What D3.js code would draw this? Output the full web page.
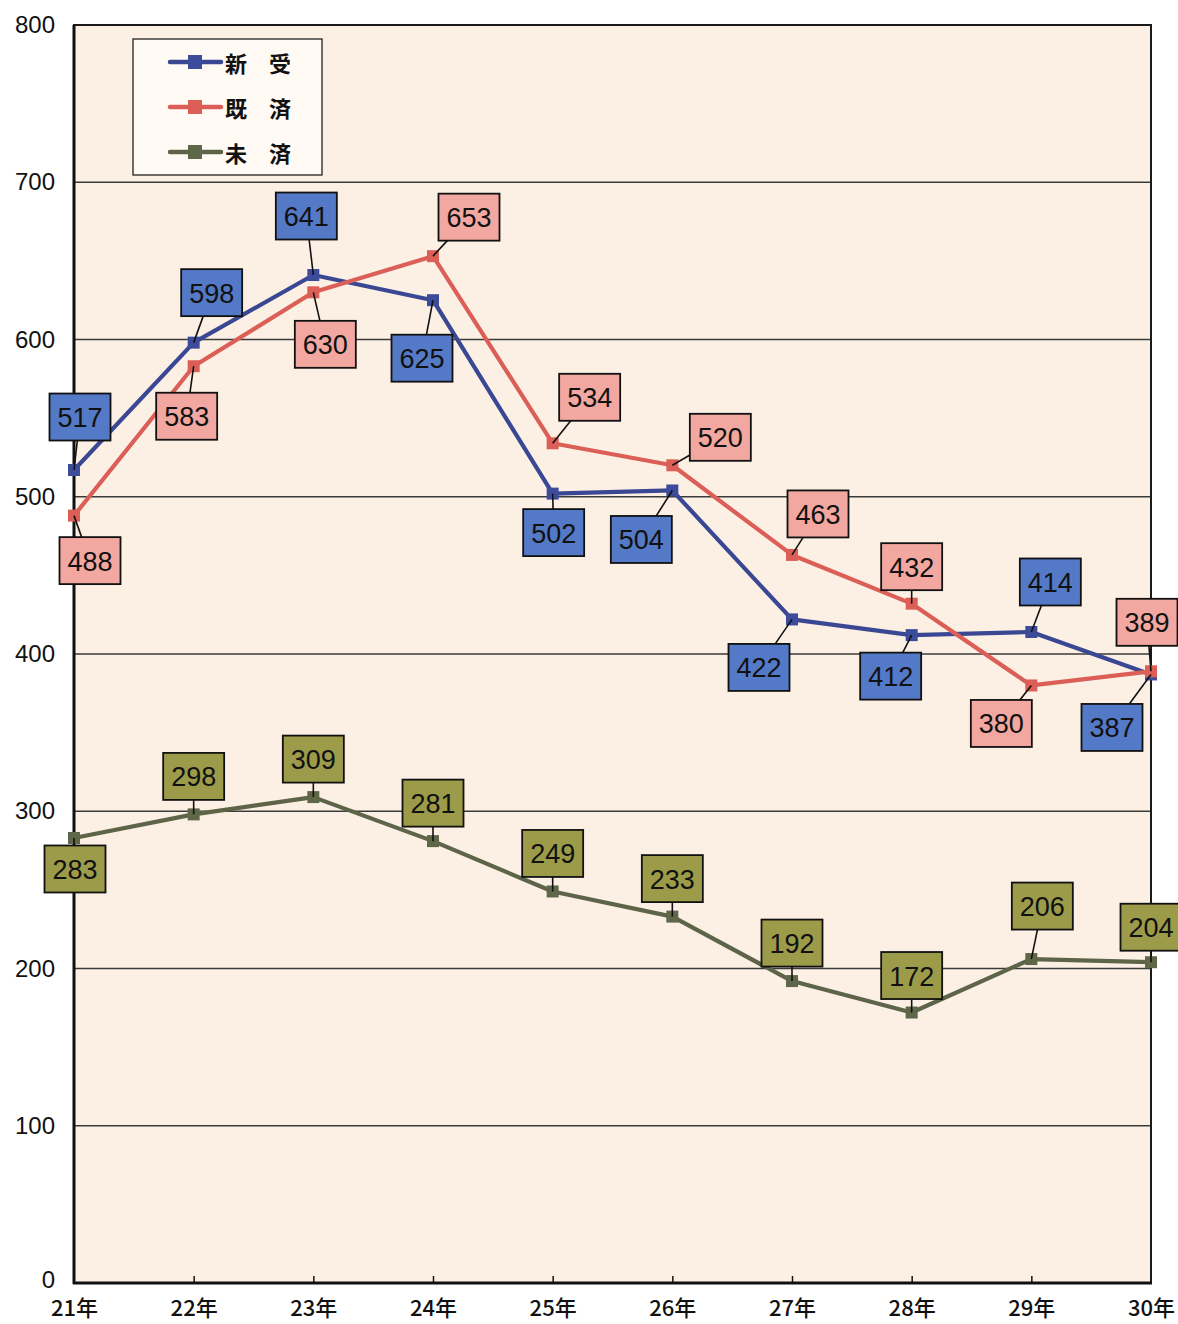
<!DOCTYPE html>
<html><head><meta charset="utf-8">
<script src="https://cdn.jsdelivr.net/npm/d3@7"></script>
<style>
html,body{margin:0;padding:0;background:#fff;}
svg{display:block;}
</style></head>
<body>
<svg id="c" width="1178" height="1324"></svg>
<script>
// ---- data ----
const categories = ["21年","22年","23年","24年","25年","26年","27年","28年","29年","30年"];
const seriesNames = ["新　受","既　済","未　済"];
const shinju = [517,598,641,625,502,504,422,412,414,387];
const kisai  = [488,583,630,653,534,520,463,432,380,389];
const misai  = [283,298,309,281,249,233,192,172,206,204];
const yTicks = [0,100,200,300,400,500,600,700,800];

// ---- label layout offsets (px from point to box centre) ----
const offShinju = [[6,-53],[18,-50],[-7,-59],[-11,58],[1,39],[-31,49],[-33,48],[-21,41],[19,-50],[-39,53]];
const offKisai  = [[16,45],[-7,50],[12,52],[36,-39],[37,-46],[48,-28],[26,-41],[0,-37],[-30,38],[-4,-49]];
const offMisai  = [[1,31],[0,-38],[0,-38],[0,-38],[0,-38],[0,-38],[0,-38],[0,-37],[11,-53],[0,-35]];

const styles = [
  {line:"#3a4894", marker:"#3d4c9a", box:"#5479c6"},
  {line:"#dc5f57", marker:"#dc5f57", box:"#f2a7a0"},
  {line:"#5d6448", marker:"#5f6749", box:"#9c9b4a"}
];
const series = [
  {name:seriesNames[0], values:shinju, off:offShinju, st:styles[0]},
  {name:seriesNames[1], values:kisai, off:offKisai, st:styles[1]},
  {name:seriesNames[2], values:misai, off:offMisai, st:styles[2]}
];

const svg = d3.select("#c");
const L=74, R=1151, T=25, B=1283;
const x = d3.scalePoint().domain(categories).range([L,R]).padding(0);
const y = d3.scaleLinear().domain([0,800]).range([B,T]);

// plot background
svg.append("rect").attr("x",L).attr("y",T).attr("width",R-L).attr("height",B-T).attr("fill","#fcf0e5");

// gridlines
svg.append("g").selectAll("line").data(yTicks.filter(d=>d>0&&d<800)).join("line")
  .attr("x1",L).attr("x2",R).attr("y1",d=>y(d)).attr("y2",d=>y(d))
  .attr("stroke","#3a3a3a").attr("stroke-width",1.3);

// frame
svg.append("rect").attr("x",L).attr("y",T).attr("width",R-L).attr("height",B-T)
  .attr("fill","none").attr("stroke","#1a1a1a").attr("stroke-width",2);
svg.append("line").attr("x1",L).attr("x2",L).attr("y1",T).attr("y2",B+1).attr("stroke","#111").attr("stroke-width",3);
svg.append("line").attr("x1",L-1).attr("x2",R+1).attr("y1",B).attr("y2",B).attr("stroke","#111").attr("stroke-width",3);

// y axis
const yAxis = d3.axisLeft(y).tickValues(yTicks).tickSize(0).tickPadding(19);
const gy = svg.append("g").attr("transform",`translate(${L},0)`).call(yAxis);
gy.select(".domain").remove();
gy.selectAll("text").attr("font-family","'Liberation Sans',Arial,sans-serif").attr("font-size",24).attr("fill","#111");
gy.selectAll(".tick").filter(d=>d===0).select("text").attr("dy","0.2em");

// x axis
const xAxis = d3.axisBottom(x).tickSize(-7).tickPadding(17);
const gx = svg.append("g").attr("transform",`translate(0,${B})`).call(xAxis);
gx.select(".domain").remove();
gx.selectAll(".tick line").attr("stroke","#111").attr("stroke-width",1.5);
gx.selectAll(".tick").filter((d,i)=>i===0||i===categories.length-1).select("line").remove();
gx.selectAll("text").attr("font-family","'Noto Sans CJK JP','Liberation Sans',sans-serif").attr("font-size",22).attr("font-weight",500).attr("fill","#111");

// lines
const lineGen = d3.line().x((d,i)=>x(categories[i])).y(d=>y(d));
series.forEach(s=>{
  svg.append("path").datum(s.values).attr("d",lineGen)
    .attr("fill","none").attr("stroke",s.st.line).attr("stroke-width",4.2).attr("stroke-linejoin","round");
});
series.forEach(s=>{
  svg.append("g").selectAll("rect").data(s.values).join("rect")
    .attr("x",(d,i)=>x(categories[i])-6).attr("y",d=>y(d)-6)
    .attr("width",12).attr("height",12).attr("fill",s.st.marker);
});

// labels
const BW=61, BH=47;
series.forEach(s=>{
  const g = svg.append("g");
  s.values.forEach((v,i)=>{
    const px=x(categories[i]), py=y(v);
    const cx=px+s.off[i][0], cy=py+s.off[i][1];
    g.append("line").attr("x1",px).attr("y1",py).attr("x2",cx).attr("y2",cy)
      .attr("stroke","#111").attr("stroke-width",1.6);
    g.append("rect").attr("x",cx-BW/2).attr("y",cy-BH/2).attr("width",BW).attr("height",BH)
      .attr("fill",s.st.box).attr("stroke","#111").attr("stroke-width",1.8);
    g.append("text").attr("x",cx).attr("y",cy+1).attr("text-anchor","middle").attr("dominant-baseline","central")
      .attr("font-family","'Liberation Sans Narrow','Liberation Sans',Arial,sans-serif")
      .attr("font-size",27).attr("fill","#111").text(v);
  });
});

// legend
const lg = svg.append("g");
lg.append("rect").attr("x",133).attr("y",39).attr("width",189).attr("height",136)
  .attr("fill","#fffaf4").attr("stroke","#222").attr("stroke-width",1.3);
series.forEach((s,i)=>{
  const ly = 62 + i*45;
  lg.append("line").attr("x1",170).attr("x2",221).attr("y1",ly).attr("y2",ly)
    .attr("stroke",s.st.line).attr("stroke-width",4.5).attr("stroke-linecap","round");
  lg.append("rect").attr("x",188).attr("y",ly-7).attr("width",14).attr("height",14).attr("fill",s.st.marker);
  lg.append("text").attr("x",225).attr("y",ly).attr("dominant-baseline","central")
    .attr("font-family","'Noto Sans CJK JP',sans-serif").attr("font-size",22).attr("font-weight",700)
    .attr("fill","#111").text(s.name);
});
</script>
</body></html>
